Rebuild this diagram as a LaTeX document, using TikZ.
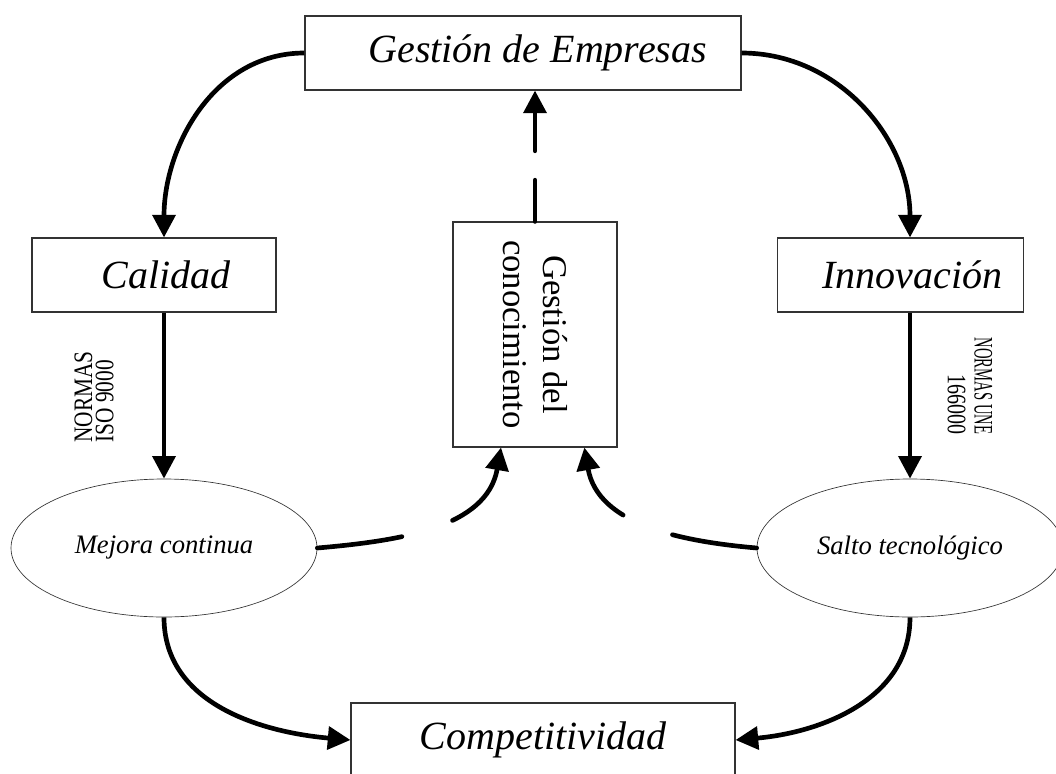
\documentclass[tikz,border=0pt]{standalone}
\usepackage{fontspec}
\setmainfont{Liberation Serif}
\usepackage{graphicx}
\usetikzlibrary{arrows.meta,calc,shapes.geometric}
\definecolor{LineClr}{rgb}{0.2,0.2,0.2}

\begin{document}
\begin{tikzpicture}[x=0.75pt,y=0.75pt,
  box/.style={draw=LineClr,line width=0.8pt,inner sep=0pt,minimum height=55.5pt,font=\fontsize{30}{36}\selectfont\itshape},
  oval/.style={ellipse,draw=LineClr,line width=0.5pt,inner sep=0pt,minimum height=103.5pt,font=\fontsize{20}{24}\selectfont\itshape},
  flow/.style={line width=3.5pt,-{Triangle[length=17pt,width=17pt]}},
  dashflow/.style={flow,line cap=round,dash pattern=on 64pt off 40pt}]
\useasboundingbox (0,0) rectangle (1056,-774);

% boxes
\node[box,minimum width=327pt] (emp) at (523,-53) {\hspace*{22pt}Gestión de Empresas};
\node[box,minimum width=183pt] (cal) at (154,-275) {\hspace*{18pt}Calidad};
\node[box,minimum width=184pt] (inn) at (900.5,-275) {\hspace*{18pt}Innovación};
\node[box,minimum width=288pt] (com) at (543,-740) {Competitividad};
\node[draw=LineClr,line width=0.8pt,inner sep=0pt,minimum width=123pt,minimum height=168.75pt] (con) at (535,-334.5) {};
\node[rotate=-90,align=center,font=\fontsize{26}{30}\selectfont] (conlbl) at (con.center) {Gestión del\\conocimiento};

% ovals
\node[oval,minimum width=229.5pt] (mej) at (164,-548) {Mejora continua};
\node[oval,minimum width=229.5pt] (sal) at (910,-548) {Salto tecnológico};

% norms
\node[rotate=90,align=left,font=\fontsize{20}{16}\selectfont] (iso) at (94,-397) {\scalebox{0.8}[1]{NORMAS}\\\scalebox{0.8}[1]{ISO 9000}};
\node[rotate=-90,align=right,font=\fontsize{20}{20}\selectfont] (une) at (970,-386) {\scalebox{0.55}[1]{NORMAS UNE}\\\scalebox{0.75}[1]{166000}};

% arrows
\draw[flow] (emp.west) to[out=180,in=90] (cal.north -| mej.north);
\draw[flow] (emp.east) to[out=0,in=90] (inn.north -| sal.north);
\draw[flow] (cal.south -| mej.north) -- (mej.north);
\draw[flow] (inn.south -| sal.north) -- (sal.north);
\draw[flow] (mej.south) to[out=-90,in=175] (com.west);
\draw[flow] (sal.south) to[out=-90,in=5] (com.east);

\draw[dashflow,dash pattern=on 31pt off 22pt] (con.north) -- (con.north |- emp.south);
\draw[dashflow] (mej.east) to[out=5,in=-100] ([xshift=-25.5pt]con.south);
\draw[dashflow] (sal.west) to[out=175,in=-80] ([xshift=37pt]con.south);

\end{tikzpicture}
\end{document}
